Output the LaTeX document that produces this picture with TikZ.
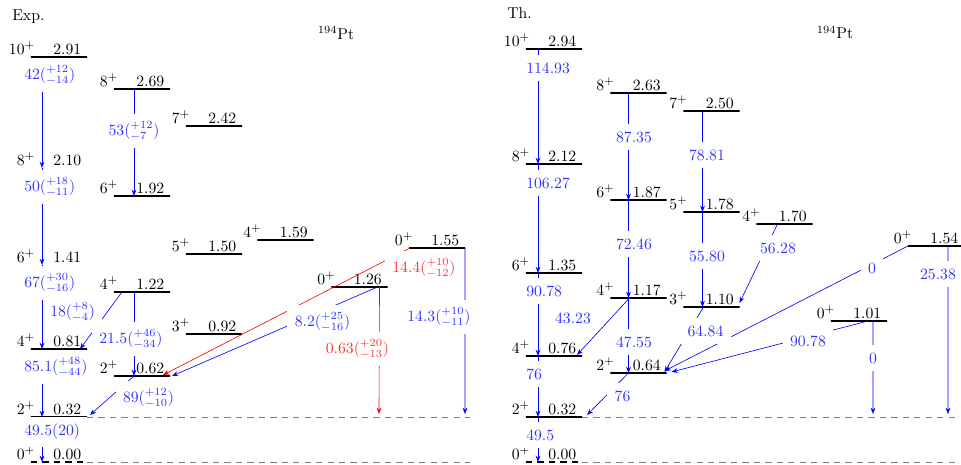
\documentclass[tikz,border=0pt]{standalone}
\usepackage{tikz}
\usetikzlibrary{arrows.meta, positioning, calc}

\begin{document}
\begin{tikzpicture}[
    x=0.0224cm, y=-0.0224cm,
    lev/.style={
        rectangle,
        draw,
        very thick,
        minimum width=35.7pt,
        minimum height=0pt,
        inner sep=0pt,
        outer sep=0pt
    },
    levthin/.style={lev, thick},
    levbare/.style={lev, draw=none},
    spinlbl/.style={anchor=base east, inner sep=0pt, xshift=2.8pt, yshift=1.9pt},
    enlbl/.style={anchor=base east, inner sep=0pt, xshift=-3.5pt, yshift=1.9pt},
    tr/.style={draw=blue, thin, -{Stealth[length=4pt, width=3pt]}},
    yr/.style={tr, semithick},
    rtr/.style={tr, draw=red},
    bval/.style={text=blue!80, fill=white, inner sep=4.7pt},
    rval/.style={bval, text=red!80},
    zline/.style={draw=black, very thick, dash pattern=on 4pt off 3.3pt},
    gline/.style={draw=gray, semithick, dash pattern=on 4pt off 3.3pt}
]

    \useasboundingbox (0,0) rectangle (961,465);

    \node[anchor=base west, inner sep=0pt] (expt) at (12,20.7) {Exp.};
    \node[anchor=base] (ptexp) at (336,39.5) {$^{194}$Pt};

    \node[levthin, label={[spinlbl]west:$10^+$}, label={[enlbl]east:2.91}] (a291) at (59,57) {};
    \node[levbare, label={[spinlbl]west:$8^+$}, label={[enlbl]east:2.10}] (a210) at (59,168) {};
    \node[levbare, label={[spinlbl]west:$6^+$}, label={[enlbl]east:1.41}] (a141) at (59,265) {};
    \node[levthin, label={[spinlbl]west:$4^+$}, label={[enlbl]east:0.81}] (a081) at (59,349) {};
    \node[lev, label={[spinlbl]west:$2^+$}, label={[enlbl]east:0.32}] (a032) at (59,417) {};
    \node[levbare, label={[spinlbl]west:$0^+$}, label={[enlbl]east:0.00}] (a000) at (59,462) {};
    \node[lev, label={[spinlbl]west:$8^+$}, label={[enlbl]east:2.69}] (b269) at (142,89) {};
    \node[lev, label={[spinlbl]west:$6^+$}, label={[enlbl]east:1.92}] (b192) at (142,196) {};
    \node[lev, label={[spinlbl]west:$4^+$}, label={[enlbl]east:1.22}] (b122) at (142,292) {};
    \node[lev, label={[spinlbl]west:$2^+$}, label={[enlbl]east:0.62}] (b062) at (142,376) {};
    \node[lev, label={[spinlbl]west:$7^+$}, label={[enlbl]east:2.42}] (c242) at (214,126) {};
    \node[lev, label={[spinlbl]west:$5^+$}, label={[enlbl]east:1.50}] (c150) at (214,254) {};
    \node[lev, label={[spinlbl]west:$3^+$}, label={[enlbl]east:0.92}] (c092) at (214,334) {};
    \node[lev, label={[spinlbl]west:$4^+$}, label={[enlbl]east:1.59}] (d159) at (285.5,240) {};
    \node[lev, label={[spinlbl]west:$0^+$}, label={[enlbl]east:1.26}] (e126) at (359.5,287) {};
    \node[lev, label={[spinlbl]west:$0^+$}, label={[enlbl]east:1.55}] (f155) at (437,248) {};

    \coordinate (lend1) at (470,417);
    \coordinate (lend0) at (470,462);
    \coordinate (r063) at (379,414);
    \coordinate (b143) at (465,414);

    \draw[gline] (a032.east) -- (lend1);
    \draw[gline] (a000.east) -- (lend0);
    \draw[zline] (a000.west) -- (a000.east);

    \draw[yr] ($(a291.west)+(11,0)$) -- ($(a210.west)+(11,0)$);
    \draw[yr] ($(a210.west)+(11,0)$) -- ($(a141.west)+(11,0)$);
    \draw[yr] ($(a141.west)+(11,0)$) -- ($(a081.west)+(11,0)$);
    \draw[yr] ($(a081.west)+(11,0)$) -- ($(a032.west)+(11,0)$);
    \draw[yr] ($(a032.west)+(11,0)$) -- ($(a000.west)+(11,0)$);
    \draw[tr] ($(b269.west)+(20,0)$) -- ($(b192.west)+(20,0)$);
    \draw[tr] ($(b122.west)+(8,0)$) -- ($(a081.west)+(49,0)$);
    \draw[tr] ($(b122.west)+(20,0)$) -- ($(b062.west)+(20,0)$);
    \draw[tr] ($(b062.west)+(20,0)$) -- ($(a032.east)+(3,-2)$);
    \draw[rtr] ($(f155.west)+(1,0)$) -- ($(b062.east)+(-7,-1)$);
    \draw[tr] ($(e126.east)+(-10,0)$) -- ($(b062.east)+(2,0)$);
    \draw[rtr] ($(e126.east)+(-8,0)$) -- (r063);
    \draw[tr] (f155.east) -- (b143);

    \node[bval, anchor=west] (v1) at (16.6,75) {$42(^{+12}_{-14})$};
    \node[bval, anchor=west] (v2) at (16.6,187) {$50(^{+18}_{-11})$};
    \node[bval, anchor=west] (v3) at (16.6,283) {$67(^{+30}_{-16})$};
    \node[bval, anchor=west] (v4) at (16.6,367) {$85.1(^{+48}_{-44})$};
    \node[bval, anchor=west] (v5) at (16.6,432) {$49.5(20)$};
    \node[bval] (v6) at (134,131) {$53(^{+12}_{-7})$};
    \node[bval, anchor=west] (v7) at (42.6,312) {$18(^{+8}_{-4})$};
    \node[bval] (v8) at (131,339) {$21.5(^{+46}_{-34})$};
    \node[bval] (v9) at (148.5,398) {$89(^{+12}_{-10})$};
    \node[rval] (v10) at (424,268) {$14.4(^{+10}_{-12})$};
    \node[bval] (v11) at (322.5,322) {$8.2(^{+25}_{-16})$};
    \node[rval] (v12) at (357.5,349) {$0.63(^{+20}_{-13})$};
    \node[bval] (v13) at (439,317) {$14.3(^{+10}_{-11})$};

    \node[anchor=base west, inner sep=0pt] (theo) at (507,18.3) {Th.};
    \node[anchor=base] (ptth) at (835,39) {$^{194}$Pt};

    \node[lev, label={[spinlbl]west:$10^+$}, label={[enlbl]east:2.94}] (g294) at (554,49) {};
    \node[lev, label={[spinlbl]west:$8^+$}, label={[enlbl]east:2.12}] (g212) at (554,164) {};
    \node[lev, label={[spinlbl]west:$6^+$}, label={[enlbl]east:1.35}] (g135) at (554,273) {};
    \node[lev, label={[spinlbl]west:$4^+$}, label={[enlbl]east:0.76}] (g076) at (554,356) {};
    \node[lev, label={[spinlbl]west:$2^+$}, label={[enlbl]east:0.32}] (g032) at (554,417) {};
    \node[levbare, label={[spinlbl]west:$0^+$}, label={[enlbl]east:0.00}] (g000) at (554,462) {};
    \node[lev, label={[spinlbl]west:$8^+$}, label={[enlbl]east:2.63}] (h263) at (638.5,93) {};
    \node[lev, label={[spinlbl]west:$6^+$}, label={[enlbl]east:1.87}] (h187) at (638.5,200) {};
    \node[lev, label={[spinlbl]west:$4^+$}, label={[enlbl]east:1.17}] (h117) at (638.5,298) {};
    \node[lev, label={[spinlbl]west:$2^+$}, label={[enlbl]east:0.64}] (h064) at (638.5,373) {};
    \node[lev, label={[spinlbl]west:$7^+$}, label={[enlbl]east:2.50}] (i250) at (711.5,111) {};
    \node[lev, label={[spinlbl]west:$5^+$}, label={[enlbl]east:1.78}] (i178) at (711.5,212) {};
    \node[lev, label={[spinlbl]west:$3^+$}, label={[enlbl]east:1.10}] (i110) at (711.5,307) {};
    \node[lev, label={[spinlbl]west:$4^+$}, label={[enlbl]east:1.70}] (j170) at (784.5,224) {};
    \node[lev, label={[spinlbl]west:$0^+$}, label={[enlbl]east:1.01}] (k101) at (859,321) {};
    \node[lev, label={[spinlbl]west:$0^+$}, label={[enlbl]east:1.54}] (l154) at (936,246) {};

    \coordinate (rend1) at (958,417);
    \coordinate (rend0) at (958,462);
    \coordinate (k0) at (873,414);
    \coordinate (l25) at (948,414);

    \draw[gline] (g032.east) -- (rend1);
    \draw[gline] (g000.east) -- (rend0);
    \draw[zline] (g000.west) -- (g000.east);

    \draw[yr] ($(g294.west)+(12,0)$) -- ($(g212.west)+(12,0)$);
    \draw[yr] ($(g212.west)+(12,0)$) -- ($(g135.west)+(12,0)$);
    \draw[yr] ($(g135.west)+(12,0)$) -- ($(g076.west)+(12,0)$);
    \draw[yr] ($(g076.west)+(12,0)$) -- ($(g032.west)+(12,0)$);
    \draw[yr] ($(g032.west)+(12,0)$) -- ($(g000.west)+(12,0)$);
    \draw[tr] ($(h263.west)+(18,0)$) -- ($(h187.west)+(18,0)$);
    \draw[tr] ($(h187.west)+(18,0)$) -- ($(h117.west)+(18,0)$);
    \draw[tr] ($(h117.west)+(18,0)$) -- ($(h064.west)+(18,0)$);
    \draw[tr] ($(h117.west)+(19,0)$) -- ($(g076.east)+(-5,-1)$);
    \draw[tr] ($(h064.west)+(18,0)$) -- ($(g032.east)+(5,-2)$);
    \draw[tr] ($(i250.west)+(19,0)$) -- ($(i178.west)+(19,0)$);
    \draw[tr] ($(i178.west)+(19,0)$) -- ($(i110.west)+(19,0)$);
    \draw[tr] ($(i110.west)+(20,0)$) -- ($(h064.east)+(-2,-1)$);
    \draw[tr] ($(j170.west)+(21,0)$) -- ($(i110.east)+(0,-4)$);
    \draw[tr] (l154.west) -- ($(h064.east)+(-2,-2)$);
    \draw[tr] ($(l154.west)+(40,0)$) -- (l25);
    \draw[tr] ($(k101.west)+(37,0)$) -- ($(h064.east)+(5,-1)$);
    \draw[tr] ($(k101.west)+(42,0)$) -- (k0);

    \node[bval, anchor=west] (w1) at (518.6,68) {114.93};
    \node[bval, anchor=west] (w2) at (518.6,183) {106.27};
    \node[bval, anchor=west] (w3) at (518.6,291) {90.78};
    \node[bval, anchor=west] (w4) at (518.6,374) {76};
    \node[bval, anchor=west] (w5) at (518.6,435) {49.5};
    \node[bval] (w6) at (634,137) {87.35};
    \node[bval] (w7) at (634,244) {72.46};
    \node[bval] (w8) at (634,342) {47.55};
    \node[bval] (w9) at (573,318) {43.23};
    \node[bval] (w10) at (622.5,396) {76};
    \node[bval] (w11) at (707,155) {78.81};
    \node[bval] (w12) at (707,256) {55.80};
    \node[bval] (w13) at (705.5,331) {64.84};
    \node[bval] (w14) at (778,248) {56.28};
    \node[bval] (w15) at (872,268) {0};
    \node[bval] (w16) at (938,274) {25.38};
    \node[bval] (w17) at (808,341) {90.78};
    \node[bval] (w18) at (873,358) {0};

\end{tikzpicture}
\end{document}
